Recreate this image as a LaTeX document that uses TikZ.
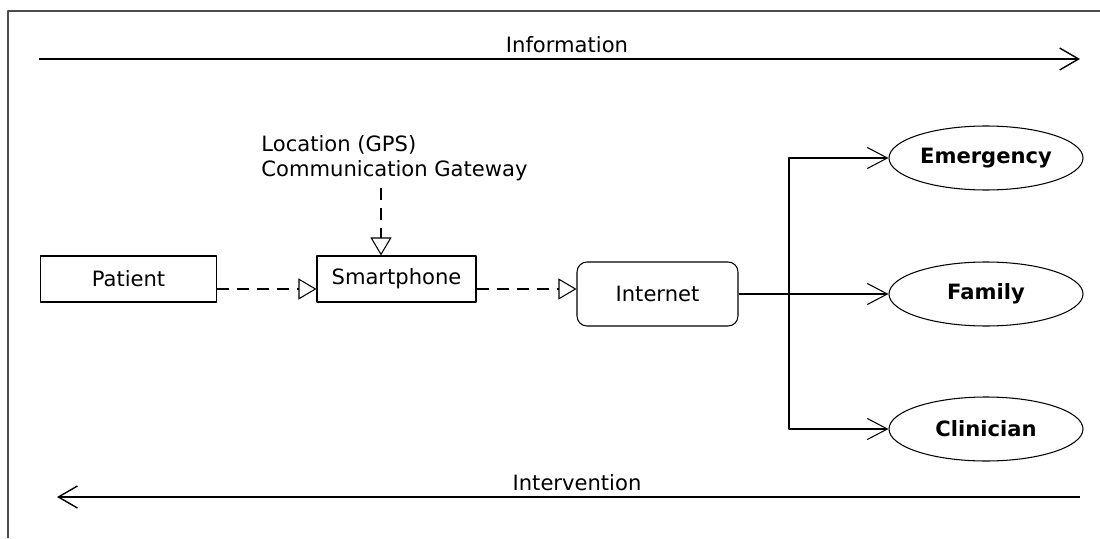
\documentclass[tikz,border=0pt]{standalone}
\usepackage{fontspec}
\setmainfont{DejaVu Sans}
\usetikzlibrary{shapes.geometric,arrows.meta,positioning}

\tikzset{
  box/.style={draw, rectangle, minimum width=#1, minimum height=0.92cm, inner sep=0pt},
  rbox/.style={draw, rectangle, rounded corners=0.2cm, minimum width=3.22cm, minimum height=1.28cm},
  target/.style={draw, ellipse, minimum width=3.88cm, minimum height=1.28cm, inner sep=0pt, font=\fontsize{12}{14}\selectfont\bfseries},
  flow/.style={dashed, dash pattern=on 0.24cm off 0.16cm, -{Triangle[open, length=0.36cm, width=0.42cm]}},
  fan/.style={-{Straight Barb[length=0.4cm, width=0.42cm]}},
  axis/.style={line width=0.8pt, -{Straight Barb[length=0.38cm, width=0.44cm]}}
}

\begin{document}
\begin{tikzpicture}[line join=round, line width=0.6pt, font=\fontsize{12}{14}\selectfont]

\useasboundingbox (0,0) rectangle (22,10.76);
\draw[gray!60!black] (0.16,0) -- (0.16,10.54) -- (22,10.54);

\coordinate (infoL) at (0.78, 9.58);
\coordinate (infoR) at (21.6, 9.58);
\coordinate (intR) at (21.6, 0.82);
\coordinate (intL) at (1.14, 0.82);

\draw[axis] (infoL) -- (infoR);
\node (information) at (11.34, 9.86) {Information};
\draw[axis] (intR) -- (intL);
\node (intervention) at (11.54, 1.10) {Intervention};

\node (patient) at (2.57, 5.18) [box=3.52cm] {Patient};
\node (smartphone) at (7.93, 5.18) [box=3.18cm] {Smartphone};
\node (internet) at (13.15, 4.88) [rbox] {Internet};

\node (emergency) at (19.72, 7.6) [target] {Emergency};
\node (family) at (19.72, 4.88) [target] {Family};
\node (clinician) at (19.72, 2.18) [target] {Clinician};

\node (gps) at (7.89, 7.6) [align=left] {Location (GPS)\\Communication Gateway};
\coordinate (gpsfoot) at (7.62, 7.0);

\draw[flow] (gpsfoot) -- (gpsfoot |- smartphone.north);
\draw[flow] ([yshift=-0.2cm]patient.east) -- ([yshift=-0.2cm]smartphone.west);
\draw[flow] ([yshift=-0.2cm]smartphone.east) -- ([yshift=-0.2cm]smartphone.east -| internet.west);

\coordinate (branch) at (15.78, 4.88);
\draw[fan] (internet.east) -- (branch) |- (emergency.west);
\draw[fan] (internet.east) -- (family.west);
\draw[fan] (branch) |- (clinician.west);

\end{tikzpicture}
\end{document}
